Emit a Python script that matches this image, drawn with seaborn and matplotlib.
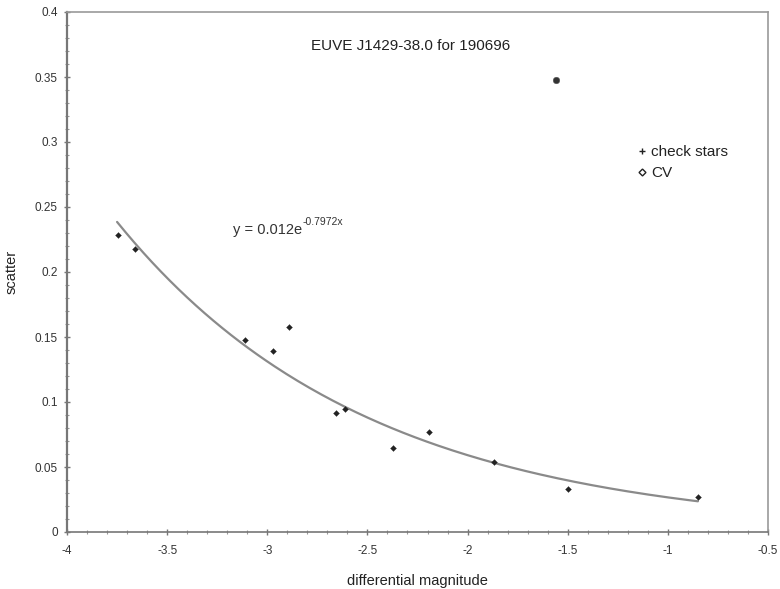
import numpy as np
import pandas as pd
import matplotlib
matplotlib.use("Agg")
import matplotlib.pyplot as plt
import seaborn as sns
from matplotlib.ticker import MultipleLocator, FuncFormatter
from matplotlib.lines import Line2D

# data
check_x = [-3.745, -3.66, -3.11, -2.97, -2.89, -2.655, -2.61, -2.37, -2.195, -1.87, -1.50, -0.85]
check_y = [0.2285, 0.2177, 0.148, 0.139, 0.158, 0.0915, 0.095, 0.065, 0.077, 0.054, 0.033, 0.027]
cv_x = [-1.56]
cv_y = [0.348]
fit_a = 0.012
fit_b = -0.7972
fit_range = [-3.75, -0.85]
title = "EUVE J1429-38.0 for 190696"
xlabel = "differential magnitude"
ylabel = "scatter"
eq_main = "y = 0.012e"
eq_sup = "-0.7972x"

sns.set_style("white")
plt.rcParams['font.family'] = ['Liberation Sans', 'DejaVu Sans']
plt.rcParams['axes.unicode_minus'] = False

fig = plt.figure(figsize=(7.8, 5.89), dpi=100)
ax = fig.add_axes([67/780, 57/589, 701/780, 520/589])

df_c = pd.DataFrame({"x": check_x, "y": check_y})
df_cv = pd.DataFrame({"x": cv_x, "y": cv_y})

xf = np.linspace(fit_range[0], fit_range[1], 200)
yf = fit_a * np.exp(fit_b * xf)
sns.lineplot(x=xf, y=yf, ax=ax, color="#8a8a8a", linewidth=1.6, zorder=2)

sns.scatterplot(data=df_c, x="x", y="y", ax=ax, marker="D", s=9, color="#222222",
                edgecolor="#222222", zorder=3, legend=False)
sns.scatterplot(data=df_cv, x="x", y="y", ax=ax, marker="o", s=22, color="#333333",
                edgecolor="#555555", zorder=3, legend=False)

ax.set_xlim(-4, -0.5)
ax.set_ylim(0, 0.4)
ax.xaxis.set_major_locator(MultipleLocator(0.5))
ax.xaxis.set_minor_locator(MultipleLocator(0.1))
ax.yaxis.set_major_locator(MultipleLocator(0.05))
ax.yaxis.set_minor_locator(MultipleLocator(0.01))
ax.xaxis.set_major_formatter(FuncFormatter(lambda v, p: f"{v:g}"))
ax.yaxis.set_major_formatter(FuncFormatter(lambda v, p: f"{v:g}"))
ax.tick_params(axis="both", which="both", bottom=True, left=True, top=False, right=False)
ax.tick_params(axis="both", which="major", direction="inout", length=5, width=1,
               color="#777777", labelsize=8.5, labelcolor="#333333", pad=4)
ax.tick_params(axis="both", which="minor", direction="inout", length=3, width=0.8,
               color="#999999")
ax.tick_params(axis="x", which="major", pad=7)
for s in ax.spines.values():
    s.set_visible(True)
    s.set_color("#999999")
    s.set_linewidth(1.2)
ax.spines["left"].set_color("#777777")
ax.spines["left"].set_linewidth(1.6)
ax.spines["bottom"].set_color("#777777")

ax.set_xlabel(xlabel, fontsize=10.5, color="#222222", labelpad=12)
ax.set_ylabel(ylabel, fontsize=10.5, color="#222222", labelpad=12)

ax.text(0.49, 0.935, title, transform=ax.transAxes, ha="center", va="center",
        fontsize=11, color="#222222")
t = ax.text(-3.17, 0.232, eq_main, ha="left", va="center",
            fontsize=10.5, color="#333333")
ax.annotate(eq_sup, xy=(1.0, 0.75), xycoords=t, ha="left", va="bottom",
            fontsize=7.5, color="#333333")

handles = [
    Line2D([], [], linestyle="none", marker="+", markersize=4, markeredgewidth=1.0,
           color="#222222", label="check stars"),
    Line2D([], [], linestyle="none", marker="D", markersize=3.5, markeredgewidth=1.0,
           markerfacecolor="white", markeredgecolor="#222222", label="CV"),
]
leg = ax.legend(handles=handles, loc="upper left", bbox_to_anchor=(0.79, 0.77),
                frameon=False, fontsize=11, handletextpad=0.1, handlelength=1.0,
                labelspacing=0.45)
for tx in leg.get_texts():
    tx.set_color("#222222")

fig.savefig("out.png", dpi=100, facecolor="white")
